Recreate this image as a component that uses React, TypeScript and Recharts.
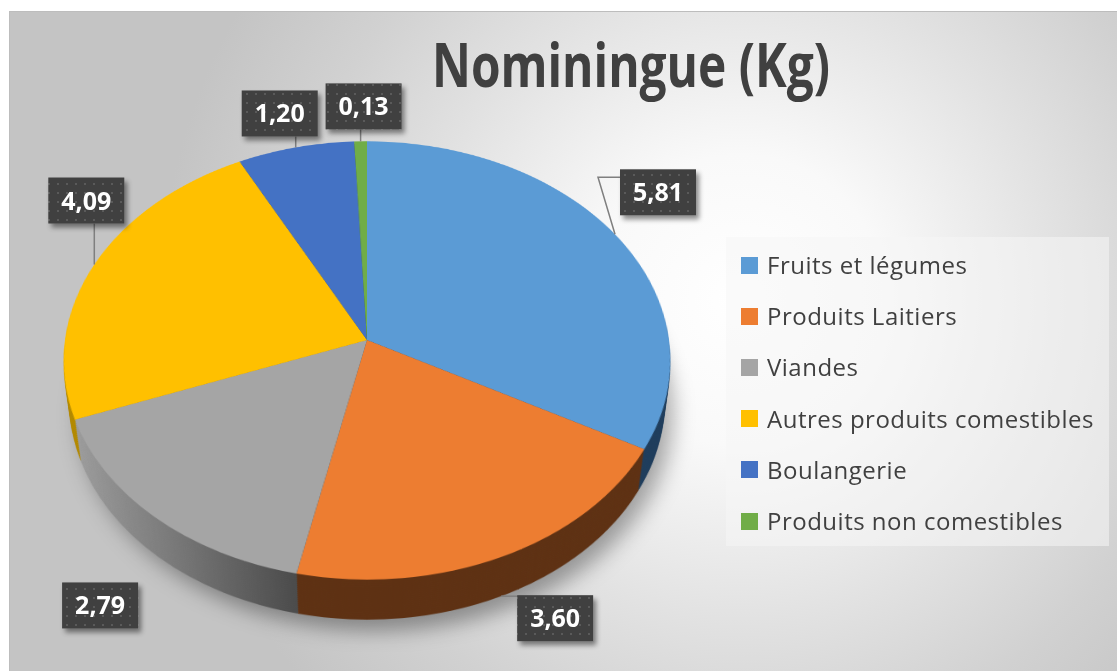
import React from 'react';
import { PieChart, Pie, Cell, Legend } from 'recharts';

// values (kg)
const CATEGORIES = [
    'Fruits et légumes',
    'Produits Laitiers',
    'Viandes',
    'Autres produits comestibles',
    'Boulangerie',
    'Produits non comestibles',
];
const VALUES = [5.81, 3.6, 2.79, 4.09, 1.2, 0.13];

const TOP_COLORS = ['#5b9bd5', '#ed7d31', '#a5a5a5', '#ffc000', '#4472c4', '#70ad47'];
const SIDE_COLORS = ['#1f3d5c', '#5e3113', 'url(#sideGray)', '#b38900', '#263f73', '#3f6428'];

const data = CATEGORIES.map((name, i) => ({ name, value: VALUES[i] }));

const W = 1117;
const H = 671;
// pie disc, tilted with a css perspective to get the excel 3d look
const CX = 367;
const AY = 340;
const R = 302;
const TILT = 44;
const PERSP = 2244;
const DEPTH = 60;
const STEP = 3;
const LAYERS = Array.from({ length: DEPTH / STEP }, (_, i) => DEPTH - i * STEP);

const RAD = Math.PI / 180;
const project = (phiDeg: number, z: number) => {
    const x = R * Math.sin(phiDeg * RAD);
    const y = -R * Math.cos(phiDeg * RAD);
    const yr = y * Math.cos(TILT * RAD) - z * Math.sin(TILT * RAD);
    const zr = y * Math.sin(TILT * RAD) + z * Math.cos(TILT * RAD);
    const sc = PERSP / (PERSP - zr);
    return [CX + x * sc, AY + yr * sc];
};

// label box offsets from the slice's rim point
const LABEL_SHIFT = [
    [43, -42],
    [54, 22],
    [-59, 48],
    [-8, -64],
    [-16, -34],
    [3, -35],
];
const LEADER = ['elbow', 'nearest', 'none', 'nearest', 'nearest', 'nearest'];
const BOX_W = 76;
const BOX_H = 46;

const css = `body { margin: 0; }`;

const fmt = (v: number) => v.toFixed(2).replace('.', ',');

const renderLabel = (props: any) => {
    const { midAngle, index, value } = props;
    const phi = 90 - midAngle;
    const front = Math.cos(phi * RAD) < -0.05;
    const [ex, ey] = project(phi, front ? -DEPTH : 0);
    const [sx, sy] = LABEL_SHIFT[index];
    const bx = ex + sx;
    const by = ey + sy;
    const left = bx - BOX_W / 2;
    const top = by - BOX_H / 2;
    let points = '';
    if (LEADER[index] === 'elbow') {
        points = `${ex},${ey} ${left - 22},${top + 8} ${left},${top + 8}`;
    } else if (LEADER[index] === 'nearest') {
        const nx = Math.min(Math.max(ex, left), left + BOX_W);
        const ny = Math.min(Math.max(ey, top), top + BOX_H);
        points = `${ex},${ey} ${nx},${ny}`;
    }
    return (
        <g key={`lbl-${index}`}>
            {points && <polyline points={points} fill="none" stroke="#7f7f7f" strokeWidth={1.5} />}
            <rect x={left} y={top} width={BOX_W} height={BOX_H} fill="url(#dots)" filter="url(#boxShadow)" />
            <text
                x={bx}
                y={by + 9}
                textAnchor="middle"
                fill="#ffffff"
                fontFamily="'Open Sans', sans-serif"
                fontWeight={700}
                fontSize={25}
            >
                {fmt(value)}
            </text>
        </g>
    );
};

const renderLegend = (props: any) => {
    let items = (props.payload || []).filter((p: any) => p.type !== 'none');
    const seen = new Set();
    items = items.filter((p: any) => {
        if (seen.has(p.value)) return false;
        seen.add(p.value);
        return true;
    });
    if (!items.length) items = CATEGORIES.map((c) => ({ value: c }));
    items = [...items].sort((a: any, b: any) => CATEGORIES.indexOf(a.value) - CATEGORIES.indexOf(b.value));
    return (
        <div
            style={{
                position: 'relative',
                width: 383,
                height: 309,
                background: 'rgba(246,246,246,0.55)',
            }}
        >
            {items.map((it: any, i: number) => (
                <div
                    key={it.value}
                    style={{
                        position: 'absolute',
                        left: 15,
                        top: 28 + i * 51.2 - 14,
                        height: 28,
                        display: 'flex',
                        alignItems: 'center',
                        whiteSpace: 'nowrap',
                    }}
                >
                    <span
                        style={{
                            width: 17,
                            height: 17,
                            background: TOP_COLORS[CATEGORIES.indexOf(it.value)],
                            display: 'inline-block',
                        }}
                    />
                    <span
                        style={{
                            marginLeft: 9,
                            fontFamily: "'Open Sans', sans-serif",
                            fontSize: 24,
                            letterSpacing: 0.5,
                            color: '#404040',
                            lineHeight: '28px',
                        }}
                    >
                        {it.value}
                    </span>
                </div>
            ))}
        </div>
    );
};

const tilted = (z: number, extra: React.CSSProperties = {}): React.CSSProperties => ({
    position: 'absolute',
    left: 0,
    top: 0,
    width: W,
    height: H,
    transformOrigin: `${CX}px ${AY}px`,
    transform: `perspective(${PERSP}px) rotateX(${TILT}deg) translateZ(${z}px)`,
    ...extra,
});

const Disc = ({ colors, fill }: { colors?: string[]; fill?: string }) => (
    <PieChart width={W} height={H} margin={{ top: 0, right: 0, bottom: 0, left: 0 }}>
        <Pie
            data={data}
            dataKey="value"
            nameKey="name"
            cx={CX}
            cy={AY}
            outerRadius={R}
            startAngle={90}
            endAngle={-270}
            stroke="none"
            fill={fill}
            legendType="none"
            isAnimationActive={false}
        >
            {colors && data.map((entry, i) => <Cell key={entry.name} fill={colors[i]} />)}
        </Pie>
    </PieChart>
);

export default function App() {
    return (
        <div style={{ position: 'relative', width: W, height: H, overflow: 'hidden', background: '#ffffff' }}>
            <style>{css}</style>
            <svg width={W} height={H} style={{ position: 'absolute', left: 0, top: 0 }}>
                <defs>
                    <radialGradient id="bgGrad" gradientUnits="userSpaceOnUse" cx={740} cy={300} r={580}>
                        <stop offset="0" stopColor="#ffffff" />
                        <stop offset="0.25" stopColor="#f9f9f9" />
                        <stop offset="0.55" stopColor="#e2e2e2" />
                        <stop offset="0.78" stopColor="#d1d1d1" />
                        <stop offset="1" stopColor="#c4c4c4" />
                    </radialGradient>
                    <linearGradient id="sideGray" x1="0" y1="0" x2="1" y2="0">
                        <stop offset="0" stopColor="#9c9c9c" />
                        <stop offset="0.35" stopColor="#7a7a7a" />
                        <stop offset="0.78" stopColor="#4a4a4a" />
                        <stop offset="1" stopColor="#454545" />
                    </linearGradient>
                    <pattern id="dots" patternUnits="userSpaceOnUse" width={9} height={9}>
                        <rect width={9} height={9} fill="#3f3f3f" />
                        <rect x={3} y={3} width={2} height={2} fill="#5a5a5a" />
                    </pattern>
                    <filter id="boxShadow" x="-20%" y="-20%" width="150%" height="150%">
                        <feDropShadow dx={3} dy={4} stdDeviation={2.5} floodColor="#000" floodOpacity={0.45} />
                    </filter>
                </defs>
                <rect x={9.5} y={11.5} width={W} height={H} fill="url(#bgGrad)" stroke="#bdbdbd" strokeWidth={1} />
                <text
                    x={432}
                    y={87}
                    fontFamily="'Open Sans', sans-serif"
                    fontWeight={700}
                    fontSize={60}
                    fill="#404040"
                    textLength={398}
                    lengthAdjust="spacingAndGlyphs"
                >
                    Nominingue (Kg)
                </text>
            </svg>

            {/* soft shadow under the disc */}
            <div style={tilted(-DEPTH - 18, { filter: 'blur(11px)', left: 9 })}>
                <Disc fill="rgba(0,0,0,0.34)" />
            </div>
            {/* side wall, stacked slices */}
            {LAYERS.map((d) => (
                <div key={`side-${d}`} style={tilted(-d)}>
                    <Disc colors={SIDE_COLORS} />
                </div>
            ))}
            {/* top face */}
            <div style={tilted(0)}>
                <Disc colors={TOP_COLORS} />
            </div>

            {/* labels and legend, flat */}
            <div style={{ position: 'absolute', left: 0, top: 0 }}>
                <PieChart width={W} height={H} margin={{ top: 0, right: 0, bottom: 0, left: 0 }}>
                    <Pie
                        data={data}
                        dataKey="value"
                        nameKey="name"
                        cx={CX}
                        cy={AY}
                        outerRadius={R}
                        startAngle={90}
                        endAngle={-270}
                        stroke="none"
                        fillOpacity={0}
                        label={renderLabel}
                        labelLine={false}
                        isAnimationActive={false}
                    >
                        {data.map((entry, i) => (
                            <Cell key={entry.name} fill={TOP_COLORS[i]} fillOpacity={0} />
                        ))}
                    </Pie>
                    <Legend
                        layout="vertical"
                        align="right"
                        verticalAlign="top"
                        content={renderLegend}
                        wrapperStyle={{ left: 726, top: 237, width: 383, height: 309 }}
                    />
                </PieChart>
            </div>
        </div>
    );
}
